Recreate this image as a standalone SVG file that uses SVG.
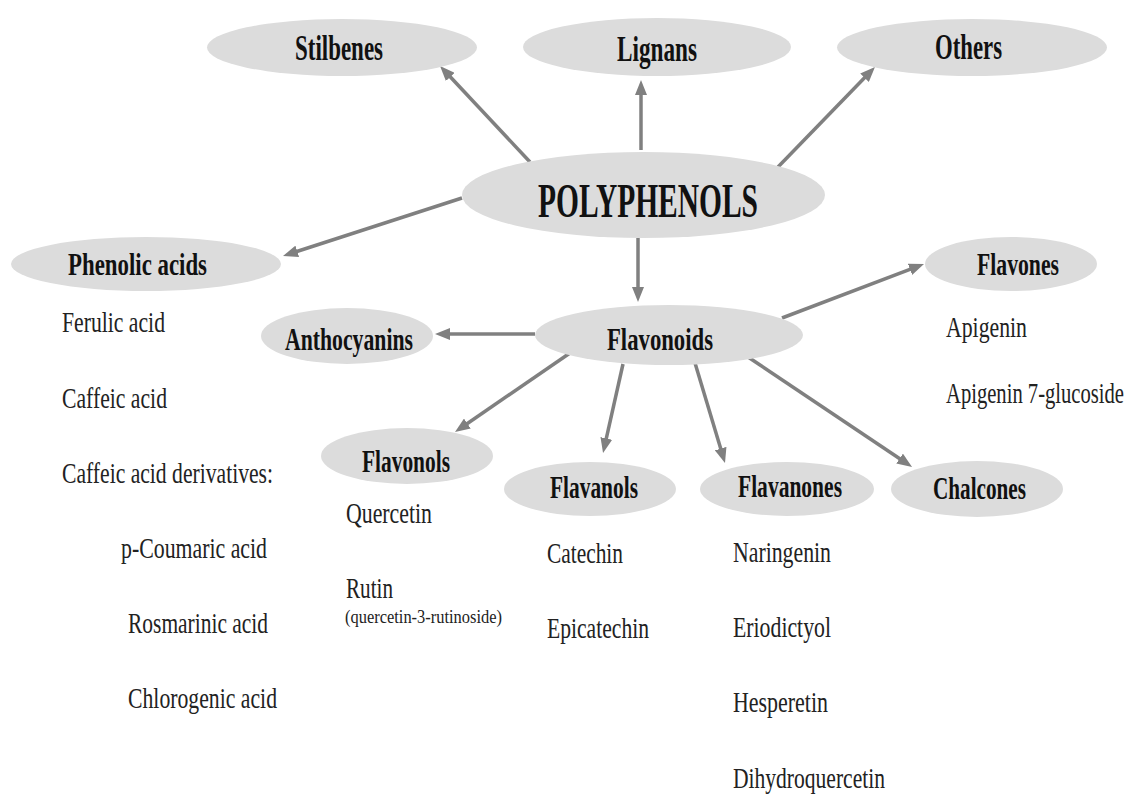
<svg xmlns="http://www.w3.org/2000/svg" width="1137" height="794" viewBox="0 0 1137 794">
<defs>
<style>
.n{fill:#dcdcdc;stroke:none}
.b{font-family:"Liberation Serif","Times New Roman",serif;font-weight:bold;fill:#111}
.r{font-family:"Liberation Serif","Times New Roman",serif;fill:#222}
.c line{stroke:#808080;stroke-width:3.5;marker-end:url(#ah)}
</style>
<marker id="ah" markerUnits="userSpaceOnUse" markerWidth="16" markerHeight="12" refX="7" refY="6" orient="auto">
<path d="M0,0 L15,6 L0,12 z" fill="#808080"/>
</marker>
</defs>
<rect width="1137" height="794" fill="#fff"/>
<g id="connectors" class="c">
<line x1="530" y1="162" x2="445.5" y2="71.8"/>
<line x1="641" y1="150" x2="641" y2="88"/>
<line x1="778" y1="167" x2="869.4" y2="72.7"/>
<line x1="462" y1="198" x2="290.6" y2="253.5"/>
<line x1="638" y1="238" x2="638" y2="294"/>
<line x1="535" y1="334" x2="443" y2="334"/>
<line x1="570" y1="353" x2="461.6" y2="427.5"/>
<line x1="623" y1="364" x2="604.8" y2="445.2"/>
<line x1="695" y1="363" x2="722.7" y2="455.3"/>
<line x1="748" y1="357" x2="905.4" y2="462.5"/>
<line x1="782" y1="318" x2="916.5" y2="266.8"/>
</g>
<g id="stilbenes"><ellipse class="n" cx="342" cy="47.5" rx="135" ry="28.5"/><text class="b" x="295" y="60" font-size="36" textLength="88" lengthAdjust="spacingAndGlyphs">Stilbenes</text></g>
<g id="lignans"><ellipse class="n" cx="657" cy="47" rx="134" ry="29"/><text class="b" x="617" y="61" font-size="36" textLength="80" lengthAdjust="spacingAndGlyphs">Lignans</text></g>
<g id="others"><ellipse class="n" cx="972" cy="47.5" rx="135" ry="28.5"/><text class="b" x="935" y="59" font-size="36" textLength="67" lengthAdjust="spacingAndGlyphs">Others</text></g>
<g id="polyphenols"><ellipse class="n" cx="643.5" cy="195" rx="181.5" ry="43"/><text class="b" x="538" y="217" font-size="48" textLength="220" lengthAdjust="spacingAndGlyphs">POLYPHENOLS</text></g>
<g id="phenolic-acids"><ellipse class="n" cx="146" cy="264" rx="135" ry="27"/><text class="b" x="68" y="275" font-size="32" textLength="139" lengthAdjust="spacingAndGlyphs">Phenolic acids</text>
<text class="r" x="62" y="332" font-size="30" textLength="103" lengthAdjust="spacingAndGlyphs">Ferulic acid</text>
<text class="r" x="62" y="408" font-size="30" textLength="105" lengthAdjust="spacingAndGlyphs">Caffeic acid</text>
<text class="r" x="62" y="483" font-size="30" textLength="211" lengthAdjust="spacingAndGlyphs">Caffeic acid derivatives:</text>
<text class="r" x="121" y="558" font-size="30" textLength="146" lengthAdjust="spacingAndGlyphs">p-Coumaric acid</text>
<text class="r" x="128" y="633" font-size="30" textLength="140" lengthAdjust="spacingAndGlyphs">Rosmarinic acid</text>
<text class="r" x="128" y="708" font-size="30" textLength="149" lengthAdjust="spacingAndGlyphs">Chlorogenic acid</text></g>
<g id="anthocyanins"><ellipse class="n" cx="347" cy="336" rx="86" ry="28"/><text class="b" x="285" y="350" font-size="32" textLength="128" lengthAdjust="spacingAndGlyphs">Anthocyanins</text></g>
<g id="flavonoids"><ellipse class="n" cx="669" cy="335" rx="134" ry="30"/><text class="b" x="607" y="350" font-size="32" textLength="106" lengthAdjust="spacingAndGlyphs">Flavonoids</text></g>
<g id="flavones"><ellipse class="n" cx="1011" cy="264" rx="86" ry="27"/><text class="b" x="977" y="275" font-size="32" textLength="82" lengthAdjust="spacingAndGlyphs">Flavones</text>
<text class="r" x="946" y="337" font-size="30" textLength="81" lengthAdjust="spacingAndGlyphs">Apigenin</text>
<text class="r" transform="translate(946,403) scale(1,1.36)" x="0" y="0" font-size="22" textLength="178" lengthAdjust="spacingAndGlyphs">Apigenin 7-glucoside</text></g>
<g id="flavonols"><ellipse class="n" cx="407" cy="456" rx="86" ry="28"/><text class="b" x="362" y="472" font-size="32" textLength="88" lengthAdjust="spacingAndGlyphs">Flavonols</text>
<text class="r" x="346" y="523" font-size="30" textLength="86" lengthAdjust="spacingAndGlyphs">Quercetin</text>
<text class="r" x="346" y="598" font-size="30" textLength="47" lengthAdjust="spacingAndGlyphs">Rutin</text>
<text class="r" x="345" y="623" font-size="18" textLength="157" lengthAdjust="spacingAndGlyphs">(quercetin-3-rutinoside)</text></g>
<g id="flavanols"><ellipse class="n" cx="590" cy="489" rx="86" ry="27"/><text class="b" x="550" y="498" font-size="32" textLength="88" lengthAdjust="spacingAndGlyphs">Flavanols</text>
<text class="r" x="547" y="563" font-size="30" textLength="76" lengthAdjust="spacingAndGlyphs">Catechin</text>
<text class="r" x="547" y="638" font-size="30" textLength="102" lengthAdjust="spacingAndGlyphs">Epicatechin</text></g>
<g id="flavanones"><ellipse class="n" cx="787" cy="489" rx="87" ry="27"/><text class="b" x="738" y="497" font-size="32" textLength="104" lengthAdjust="spacingAndGlyphs">Flavanones</text>
<text class="r" x="733" y="562" font-size="30" textLength="98" lengthAdjust="spacingAndGlyphs">Naringenin</text>
<text class="r" x="733" y="637" font-size="30" textLength="98" lengthAdjust="spacingAndGlyphs">Eriodictyol</text>
<text class="r" x="733" y="712" font-size="30" textLength="95" lengthAdjust="spacingAndGlyphs">Hesperetin</text>
<text class="r" x="733" y="788" font-size="30" textLength="152" lengthAdjust="spacingAndGlyphs">Dihydroquercetin</text></g>
<g id="chalcones"><ellipse class="n" cx="977" cy="489" rx="86" ry="28"/><text class="b" x="933" y="499" font-size="32" textLength="93" lengthAdjust="spacingAndGlyphs">Chalcones</text></g>
</svg>
